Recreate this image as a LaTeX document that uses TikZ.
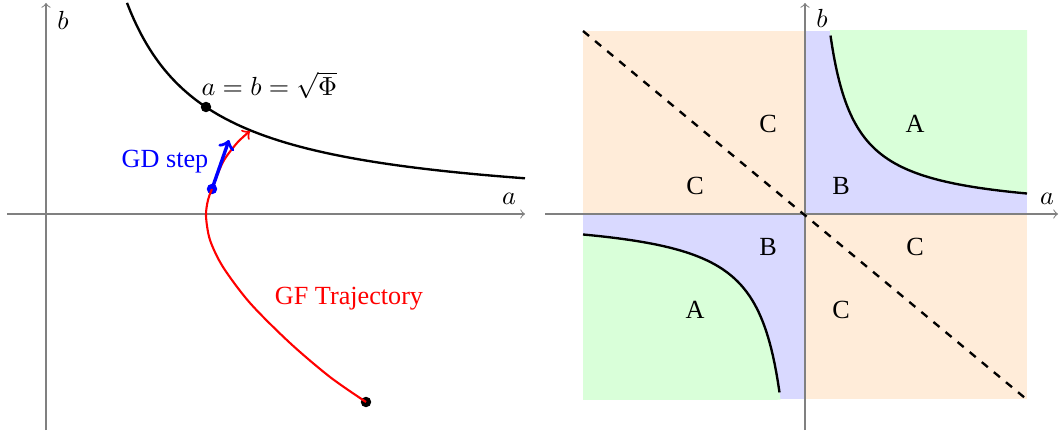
\documentclass[tikz,border=0pt]{standalone}
\usepackage{fontspec}
\setmainfont{Liberation Serif}
\begin{document}
\begin{tikzpicture}[x=0.382pt,y=-0.382pt,
  axisline/.style={gray,->},
  curveline/.style={black,line width=0.9pt},
  dotnode/.style={circle,fill=black,inner sep=0pt,minimum size=4pt},
  bluedot/.style={circle,fill=blue,inner sep=0pt,minimum size=4pt},
  regionlabel/.style={inner sep=0pt}]
\useasboundingbox (0,0) rectangle (1060,435);
% ---------------- left panel ----------------
\coordinate (lx0) at (7,214);
\coordinate (lx1) at (525,214);
\coordinate (ly0) at (46,430);
\coordinate (ly1) at (46,3);
\draw[axisline] (lx0) -- (lx1);
\draw[axisline] (ly0) -- (ly1);
\node (la) at (509,199) {$a$};
\node (lb) at (63,20) {$b$};
\draw[curveline] plot[domain=81:479,samples=120] ({46+\x},{214-171/\x*100});
\node[dotnode] (opt) at (206,107) {};
\node[anchor=base west,inner sep=0pt] (optlabel) at (201,96) {$a=b=\sqrt{\Phi}$};
\node[dotnode] (start) at (366,402) {};
\node[bluedot] (gd) at (212,189) {};
\coordinate (gdend) at (229,140);
\coordinate (gfend) at (250,131);
\draw[red,thick,->] plot[smooth] coordinates {(start.center) (330,377) (290,343) (250,303) (223,267) (210,240) (206,216) (208,200) (gd.center) (223,162) (237,143) (gfend)};
\draw[blue,line width=1.3pt,->] (gd.center) -- (gdend);
\node[blue] (gdlabel) at (165,162) {GD step};
\node[red] (gflabel) at (349,299) {GF Trajectory};
% ---------------- right panel ----------------
\fill[orange!15] (583,31) rectangle (805,214);
\fill[orange!15] (805,214) rectangle (1027,399);
\fill[blue!15] (805,31) rectangle (1027,214);
\fill[blue!15] (583,214) rectangle (805,399);
\begin{scope}
\clip (583,31) rectangle (1027,399);
\fill[green!15] plot[domain=24.5:222,samples=120] ({805+\x},{214-4550/\x}) -- (1030,193) -- (1030,28) -- cycle;
\fill[green!15] plot[domain=-24.5:-222,samples=120] ({805+\x},{214-4550/\x}) -- (580,235) -- (580,402) -- cycle;
\end{scope}
\coordinate (rx0) at (545,214);
\coordinate (rx1) at (1058,214);
\coordinate (ry0) at (805,430);
\coordinate (ry1) at (805,3);
\draw[axisline] (rx0) -- (rx1);
\draw[axisline] (ry0) -- (ry1);
\node (ra) at (1047,199) {$a$};
\node (rb) at (822,18) {$b$};
\draw[curveline] plot[domain=25.5:222,samples=120] ({805+\x},{214-4550/\x});
\draw[curveline] plot[domain=-25.5:-222,samples=120] ({805+\x},{214-4550/\x});
\coordinate (d0) at (583,31);
\coordinate (d1) at (1025,398);
\draw[line width=0.9pt,dashed] (d0) -- (d1);
\node[regionlabel] (c1) at (768,124) {C};
\node[regionlabel] (a1) at (915,124) {A};
\node[regionlabel] (c2) at (695,186) {C};
\node[regionlabel] (b1) at (841,186) {B};
\node[regionlabel] (b2) at (768,247) {B};
\node[regionlabel] (c3) at (915,247) {C};
\node[regionlabel] (a2) at (695,310) {A};
\node[regionlabel] (c4) at (841,310) {C};
\end{tikzpicture}
\end{document}
